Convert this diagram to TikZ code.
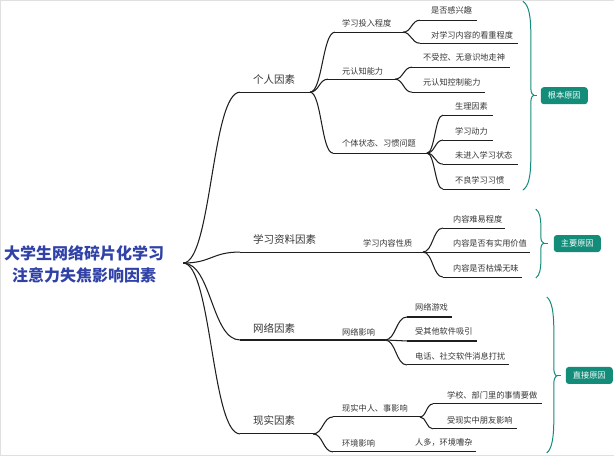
\documentclass[tikz,border=0pt]{standalone}
\usepackage{fontspec}
\setmainfont{Noto Sans CJK SC}
\usetikzlibrary{calc}
\definecolor{rootblue}{RGB}{48,66,168}
\definecolor{tealc}{RGB}{20,140,122}
\definecolor{txt}{RGB}{55,55,55}
\begin{document}
\begin{tikzpicture}[x=1pt,y=-1pt,
  ln/.style={line width=1.05pt, draw=black!88},
  conn/.style={ln, to path={let \p1=(\tikztostart),\p2=(\tikztotarget) in .. controls (0.5*\x1+0.5*\x2,\y1) and (0.5*\x1+0.5*\x2,\y2) .. (\tikztotarget)}},
  lone/.style={anchor=west, inner sep=0pt, font=\fontsize{10.5}{12}\selectfont, text=txt},
  ltwo/.style={anchor=west, inner sep=0pt, font=\fontsize{8.2}{10}\selectfont, text=txt},
  brc/.style={draw=tealc, line width=1pt},
  tag/.style={fill=tealc, text=white, rounded corners=3pt, inner sep=0pt, minimum width=47pt, minimum height=17pt, font=\fontsize{8.2}{10}\selectfont},
]
\useasboundingbox[fill=white, draw=black!12, line width=0.5pt] (0,0) rectangle (614,455);

% root
\node[align=center, inner sep=0pt, text=rootblue, font=\bfseries\fontsize{16}{22}\selectfont] (root) at (84,264) {大学生网络碎片化学习\\注意力失焦影响因素};
\coordinate (root-e) at (183,263);

% level 1 coordinates
\coordinate (p-s) at (240,92);  \coordinate (p-e) at (310,92);
\coordinate (m-s) at (240,252); \coordinate (m-e) at (350,252);
\coordinate (n-s) at (240,340); \coordinate (n-e) at (330,340);
\coordinate (r-s) at (240,434); \coordinate (r-e) at (313,434);

\draw[conn] (root-e) to (p-s); \draw[ln] (p-s) -- (p-e);
\draw[conn] (root-e) to (m-s); \draw[ln] (m-s) -- (m-e);
\draw[conn] (root-e) to (n-s); \draw[ln] (n-s) -- (n-e);
\draw[conn] (root-e) to (r-s); \draw[ln] (r-s) -- (r-e);

\node[lone] (p-t) at (253,79) {个人因素};
\node[lone] (m-t) at (253,239) {学习资料因素};
\node[lone] (n-t) at (253,328) {网络因素};
\node[lone] (r-t) at (253,421) {现实因素};

% ---- 个人因素
\coordinate (a1-s) at (335,32);  \coordinate (a1-e) at (403,32);
\coordinate (a2-s) at (328,79);  \coordinate (a2-e) at (395,79);
\coordinate (a3-s) at (333,153); \coordinate (a3-e) at (427,153);
\draw[conn] (p-e) to (a1-s); \draw[ln] (a1-s) -- (a1-e);
\draw[conn] (p-e) to (a2-s); \draw[ln] (a2-s) -- (a2-e);
\draw[conn] (p-e) to (a3-s); \draw[ln] (a3-s) -- (a3-e);
\node[ltwo] (a1-t) at (342,23) {学习投入程度};
\node[ltwo] (a2-t) at (342,71) {元认知能力};
\node[ltwo] (a3-t) at (342,143) {个体状态、习惯问题};

\coordinate (a11-s) at (420,20);  \coordinate (a11-e) at (477,20);
\coordinate (a12-s) at (420,43);  \coordinate (a12-e) at (518,43);
\draw[conn] (a1-e) to (a11-s); \draw[ln] (a11-s) -- (a11-e);
\draw[conn] (a1-e) to (a12-s); \draw[ln] (a12-s) -- (a12-e);
\node[ltwo] (a11-t) at (431,10) {是否感兴趣};
\node[ltwo] (a12-t) at (431,35) {对学习内容的看重程度};

\coordinate (a21-s) at (412,67);  \coordinate (a21-e) at (510,67);
\coordinate (a22-s) at (412,92);  \coordinate (a22-e) at (485,92);
\draw[conn] (a2-e) to (a21-s); \draw[ln] (a21-s) -- (a21-e);
\draw[conn] (a2-e) to (a22-s); \draw[ln] (a22-s) -- (a22-e);
\node[ltwo] (a21-t) at (423,57) {不受控、无意识地走神};
\node[ltwo] (a22-t) at (423,82) {元认知控制能力};

\coordinate (a31-s) at (443,115); \coordinate (a31-e) at (493,115);
\coordinate (a32-s) at (443,140); \coordinate (a32-e) at (493,140);
\coordinate (a33-s) at (443,164); \coordinate (a33-e) at (518,164);
\coordinate (a34-s) at (443,189); \coordinate (a34-e) at (510,189);
\draw[conn] (a3-e) to (a31-s); \draw[ln] (a31-s) -- (a31-e);
\draw[conn] (a3-e) to (a32-s); \draw[ln] (a32-s) -- (a32-e);
\draw[conn] (a3-e) to (a33-s); \draw[ln] (a33-s) -- (a33-e);
\draw[conn] (a3-e) to (a34-s); \draw[ln] (a34-s) -- (a34-e);
\node[ltwo] (a31-t) at (455,106) {生理因素};
\node[ltwo] (a32-t) at (455,131) {学习动力};
\node[ltwo] (a33-t) at (455,155) {未进入学习状态};
\node[ltwo] (a34-t) at (455,180) {不良学习习惯};

% ---- 学习资料因素
\coordinate (b1-e) at (423,252);
\draw[ln] (m-e) -- (b1-e);
\node[ltwo] (b1-t) at (363,243) {学习内容性质};
\coordinate (b11-s) at (443,228); \coordinate (b11-e) at (505,228);
\coordinate (b12-s) at (443,252); \coordinate (b12-e) at (530,252);
\coordinate (b13-s) at (443,277); \coordinate (b13-e) at (522,277);
\draw[conn] (b1-e) to (b11-s); \draw[ln] (b11-s) -- (b11-e);
\draw[conn] (b1-e) to (b12-s); \draw[ln] (b12-s) -- (b12-e);
\draw[conn] (b1-e) to (b13-s); \draw[ln] (b13-s) -- (b13-e);
\node[ltwo] (b11-t) at (453,219) {内容难易程度};
\node[ltwo] (b12-t) at (453,243) {内容是否有实用价值};
\node[ltwo] (b13-t) at (453,268) {内容是否枯燥无味};

% ---- 网络因素
\coordinate (c1-e) at (385,340);
\draw[ln] (n-e) -- (c1-e);
\node[ltwo] (c1-t) at (342,332) {网络影响};
\coordinate (c11-s) at (407,317); \coordinate (c11-e) at (452,317);
\coordinate (c12-s) at (407,341); \coordinate (c12-e) at (477,341);
\coordinate (c13-s) at (407,365); \coordinate (c13-e) at (509,365);
\draw[conn] (c1-e) to (c11-s); \draw[ln] (c11-s) -- (c11-e);
\draw[conn] (c1-e) to (c12-s); \draw[ln] (c12-s) -- (c12-e);
\draw[conn] (c1-e) to (c13-s); \draw[ln] (c13-s) -- (c13-e);
\node[ltwo] (c11-t) at (415,307) {网络游戏};
\node[ltwo] (c12-t) at (415,331) {受其他软件吸引};
\node[ltwo] (c13-t) at (415,356) {电话、社交软件消息打扰};

% ---- 现实因素
\coordinate (d1-s) at (333,417); \coordinate (d1-e) at (420,417);
\coordinate (d2-s) at (333,452); \coordinate (d2-e) at (400,452);
\draw[conn] (r-e) to (d1-s); \draw[ln] (d1-s) -- (d1-e);
\draw[conn] (r-e) to (d2-s); \draw[ln] (d2-s) -- (d2-e);
\node[ltwo] (d1-t) at (342,408) {现实中人、事影响};
\node[ltwo] (d2-t) at (342,443) {环境影响};
\coordinate (d11-s) at (433,404); \coordinate (d11-e) at (542,404);
\coordinate (d12-s) at (433,429); \coordinate (d12-e) at (517,429);
\draw[conn] (d1-e) to (d11-s); \draw[ln] (d11-s) -- (d11-e);
\draw[conn] (d1-e) to (d12-s); \draw[ln] (d12-s) -- (d12-e);
\node[ltwo] (d11-t) at (447,395) {学校、部门里的事情要做};
\node[ltwo] (d12-t) at (447,420) {受现实中朋友影响};
\coordinate (d21-e) at (476,452);
\draw[ln] (d2-e) -- (d21-e);
\node[ltwo] (d21-t) at (415,443) {人多，环境嘈杂};

% ---- braces and tags
\coordinate (k1-tip) at (534,95); \coordinate (k1-tk) at (537,95);
\draw[brc] (523,1) .. controls (529,5) and (531,15) .. (531,35) -- (531,88)
  .. controls (531,93) and (533,95) .. (k1-tip)
  .. controls (533,95) and (531,97) .. (531,102) -- (531,156)
  .. controls (531,176) and (529,186) .. (523,190);
\draw[brc] (k1-tip) -- (k1-tk);
\node[tag] (k1) at (564.5,95.5) {根本原因};

\coordinate (k2-tip) at (544,243); \coordinate (k2-tk) at (548,243);
\draw[brc] (536,209) .. controls (540,212) and (541,218) .. (541,226) -- (541,237)
  .. controls (541,241) and (543,243) .. (k2-tip)
  .. controls (543,243) and (541,245) .. (541,249) -- (541,261)
  .. controls (541,269) and (540,275) .. (536,278);
\draw[brc] (k2-tip) -- (k2-tk);
\node[tag] (k2) at (577.5,243.5) {主要原因};

\coordinate (k3-tip) at (557,376); \coordinate (k3-tk) at (561,376);
\draw[brc] (547,297) .. controls (552,301) and (554,312) .. (554,330) -- (554,369)
  .. controls (554,373) and (556,376) .. (k3-tip)
  .. controls (556,376) and (554,379) .. (554,383) -- (554,420)
  .. controls (554,438) and (552,449) .. (547,453);
\draw[brc] (k3-tip) -- (k3-tk);
\node[tag] (k3) at (589.5,375.5) {直接原因};
\end{tikzpicture}
\end{document}
